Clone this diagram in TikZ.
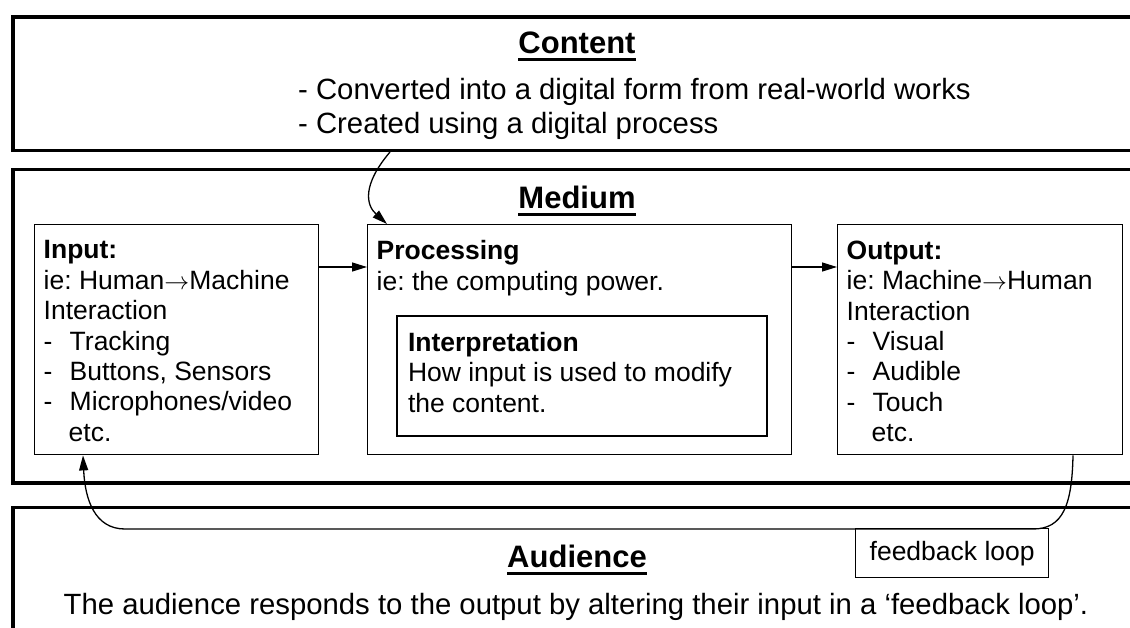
\documentclass[tikz,border=0pt]{standalone}
\usepackage{fontspec}
\setmainfont{Liberation Sans}
\usetikzlibrary{arrows.meta}

\frenchspacing
\newcommand{\headfont}{\fontsize{31}{36}\selectfont\bfseries}
\newcommand{\bodyfont}{\fontsize{29.3}{34}\selectfont}
\newcommand{\boxfont}{\fontsize{26.5}{30.4}\selectfont}
% thick underline for the layer headings
\newcommand{\ulbold}[1]{\setbox0\hbox{#1}\rlap{\vrule height -4.5pt depth 7.5pt width \wd0}\box0}
\newcommand{\listdash}{\makebox[26pt][l]{-}}
\newcommand{\boxtext}[3]{\parbox[t][#1][t]{#2}{#3}}
\newcommand{\thento}{\(\rightarrow\)}

\begin{document}
\begin{tikzpicture}[x=1pt,y=-1pt,
  panel/.style={draw,line width=3.5pt,anchor=north west,minimum width=1150pt,inner sep=0pt},
  unit/.style={draw,line width=1.4pt,anchor=north west,inner xsep=9pt,inner ysep=16pt,font=\boxfont},
  heading/.style={anchor=base,inner sep=0pt,font=\headfont},
  link/.style={line width=1.3pt,-{Triangle[length=15pt,width=9pt]}}]
  \useasboundingbox (0,0) rectangle (1130,627);
  \clip (0,0) rectangle (1130,627);

  % the three layers
  \node[panel,minimum height=133.5pt] (content) at (11,15) {};
  \node[panel,minimum height=313.5pt] (medium) at (11,167.5) {};
  \node[panel,minimum height=150pt] (audience) at (11,505.5) {};

  \node[heading] (contenthead) at (577,53) {\ulbold{Content}};
  \node[anchor=base west,inner sep=0pt,font=\bodyfont] (contentlist) at (298,99)
    {\parbox[t]{720pt}{- Converted into a digital form from real-world works\\- Created using a digital process}};
  \node[heading] (mediumhead) at (577,208) {\ulbold{Medium}};
  \node[heading] (audiencehead) at (577,567) {\ulbold{Audience}};
  \node[anchor=base,inner sep=0pt,font=\bodyfont] (audiencetext) at (576,614)
    {The audience responds to the output by altering their input in a ‘feedback loop’.};

  % boxes inside the medium
  \node[unit] (input) at (34,224) {\boxtext{198pt}{266pt}{\textbf{Input:}\\ie: Human\thento Machine\\Interaction\\
    \listdash Tracking\\\listdash Buttons, Sensors\\\listdash Microphones/video\\\hspace*{25pt}etc.}};
  \node[unit] (processing) at (367,224) {\boxtext{198pt}{406pt}{\textbf{Processing}\\ie: the computing power.}};
  \node[unit,line width=2pt,inner xsep=11pt] (interp) at (396,315)
    {\boxtext{88pt}{348pt}{\textbf{Interpretation}\\How input is used to modify\\the content.}};
  \node[unit] (output) at (837,224) {\boxtext{198pt}{267pt}{\textbf{Output:}\\ie: Machine\thento Human\\Interaction\\
    \listdash Visual\\\listdash Audible\\\listdash Touch\\\hspace*{25pt}etc.}};

  \node[draw,line width=1.3pt,anchor=north west,minimum width=193pt,minimum height=49pt,font=\boxfont]
    (fbnote) at (855,528) {feedback loop};

  % connectors
  \draw[link] (input.east |- 0,267) -- (processing.west |- 0,267);
  \draw[link] (processing.east |- 0,267) -- (output.west |- 0,267);
  \draw[link] (content.south -| 390,0) .. controls (362,185) and (366,205) .. (processing.north -| 387,0);
  \draw[link] (output.south -| 1073,0) .. controls (1072,505) and (1063,529) .. (1033,529)
    -- (125,529) .. controls (95,529) and (85,500) .. (input.south -| 83,0);
\end{tikzpicture}
\end{document}
